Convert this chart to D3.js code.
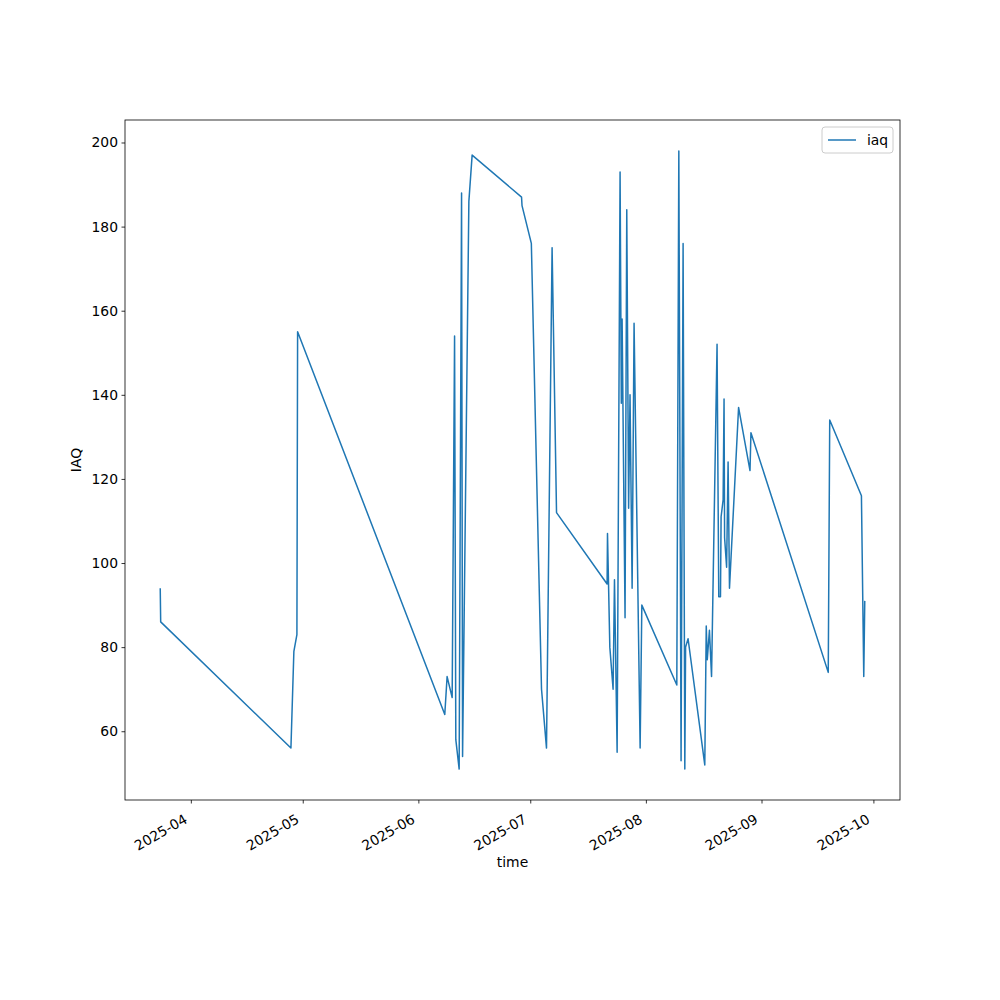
<!DOCTYPE html>
<html>
<head>
<meta charset="utf-8">
<script src="https://cdnjs.cloudflare.com/ajax/libs/d3/7.8.5/d3.min.js"></script>
<style>
body { margin: 0; background: #fff; }
svg text { font-family: "DejaVu Sans", sans-serif; font-size: 13.9px; fill: #000; }
</style>
</head>
<body>
<div id="main"></div>
<script>
// readings of the sensor
var times = [
  "2025-03-23 19:00", "2025-03-23 22:00", "2025-04-27 20:00", "2025-04-28 15:00", "2025-04-29 10:30",
  "2025-04-29 15:00", "2025-06-08 02:00", "2025-06-08 17:00", "2025-06-10 01:30", "2025-06-10 17:00",
  "2025-06-11 01:00", "2025-06-11 22:30", "2025-06-12 14:00", "2025-06-12 20:30", "2025-06-14 13:00",
  "2025-06-15 10:00", "2025-06-28 16:00", "2025-06-28 19:00", "2025-07-01 07:00", "2025-07-04 00:30",
  "2025-07-05 08:30", "2025-07-06 20:30", "2025-07-08 01:00", "2025-07-21 14:30", "2025-07-21 17:00",
  "2025-07-22 08:00", "2025-07-23 05:00", "2025-07-23 14:00", "2025-07-24 07:00", "2025-07-25 02:00",
  "2025-07-25 10:00", "2025-07-25 15:00", "2025-07-26 10:00", "2025-07-26 21:00", "2025-07-27 09:00",
  "2025-07-27 18:00", "2025-07-28 07:30", "2025-07-28 20:00", "2025-07-30 11:00", "2025-07-30 22:00",
  "2025-08-09 07:00", "2025-08-09 20:00", "2025-08-10 10:30", "2025-08-10 23:30", "2025-08-11 10:30",
  "2025-08-11 15:30", "2025-08-12 07:30", "2025-08-16 19:00", "2025-08-17 04:30", "2025-08-17 11:00",
  "2025-08-18 01:00", "2025-08-18 14:30", "2025-08-20 02:00", "2025-08-20 13:00", "2025-08-21 00:00",
  "2025-08-21 04:00", "2025-08-21 17:00", "2025-08-21 23:00", "2025-08-22 02:30", "2025-08-22 15:30",
  "2025-08-23 01:00", "2025-08-23 10:00", "2025-08-25 20:30", "2025-08-28 22:00", "2025-08-29 04:00",
  "2025-09-18 21:30", "2025-09-19 07:00", "2025-09-27 19:00", "2025-09-28 10:00", "2025-09-28 16:30"
];
var iaq = [
  94, 86, 56, 79, 83,
  155, 64, 73, 68, 154,
  58, 51, 188, 54, 186,
  197, 187, 185, 176, 70,
  56, 175, 112, 95, 107,
  80, 70, 96, 55, 193,
  138, 158, 87, 184, 113,
  140, 94, 157, 56, 90,
  71, 198, 53, 176, 51,
  80, 82, 52, 85, 77,
  84, 73, 152, 92, 92,
  111, 115, 139, 106, 99,
  124, 94, 137, 122, 131,
  74, 134, 116, 73, 91
];
var seriesName = "iaq";

var parseTime = d3.timeParse("%Y-%m-%d %H:%M");
var data = times.map(function(t, i) { return {time: parseTime(t), value: iaq[i]}; });

var mLeft = 125, mTop = 120, width = 775, height = 680;

// 5% padding on each side, like the original plot
var tExt = d3.extent(data, function(d) { return d.time; });
var tPad = (tExt[1] - tExt[0]) * 0.05;
var x = d3.scaleTime()
  .domain([new Date(+tExt[0] - tPad), new Date(+tExt[1] + tPad)])
  .range([0, width]);
var vExt = d3.extent(data, function(d) { return d.value; });
var vPad = (vExt[1] - vExt[0]) * 0.05;
var y = d3.scaleLinear()
  .domain([vExt[0] - vPad, vExt[1] + vPad])
  .range([height, 0]);

var canvas = d3.select("#main").append("svg")
  .attr("width", 1000)
  .attr("height", 1000);
var g = canvas.append("g")
  .attr("transform", "translate(" + mLeft + "," + mTop + ")");

var line = d3.line()
  .x(function(d) { return x(d.time); })
  .y(function(d) { return y(d.value); });
g.append("path")
  .datum(data)
  .attr("d", line)
  .attr("fill", "none")
  .attr("stroke", "#1f77b4")
  .attr("stroke-width", 1.5)
  .attr("stroke-linejoin", "round");//draw line

var xAxis = d3.axisBottom(x)
  .ticks(d3.timeMonth.every(1))
  .tickFormat(d3.timeFormat("%Y-%m"))
  .tickSizeInner(3.5).tickSizeOuter(0).tickPadding(3.5);
var xg = g.append("g")
  .attr("transform", "translate(0," + height + ")")
  .call(xAxis);
xg.selectAll("text")
  .attr("y", 0).attr("dy", null)
  .style("text-anchor", "end")
  .attr("transform", "translate(-3, 22) rotate(-30)");//rotate dates

var yAxis = d3.axisLeft(y).ticks(8)
  .tickSizeInner(3.5).tickSizeOuter(0).tickPadding(3.5);
var yg = g.append("g").call(yAxis);

[xg, yg].forEach(function(a) {
  a.select(".domain").remove();
  a.selectAll("line").attr("stroke", "#000").attr("stroke-width", 0.8);
  a.selectAll("text").attr("font-size", null).attr("font-family", null);
});
g.append("rect")
  .attr("width", width)
  .attr("height", height)
  .attr("fill", "none")
  .attr("stroke", "#000")
  .attr("stroke-width", 0.8);//frame

canvas.append("text")
  .attr("x", mLeft + width / 2)
  .attr("y", 867)
  .style("text-anchor", "middle")
  .text("time");
canvas.append("text")
  .attr("transform", "translate(81," + (mTop + height / 2) + ") rotate(-90)")
  .style("text-anchor", "middle")
  .text("IAQ");

// legend, upper right
var legend = g.append("g").attr("transform", "translate(" + (width - 78) + ",7)");
legend.append("rect")
  .attr("width", 71)
  .attr("height", 26)
  .attr("rx", 3)
  .attr("fill", "#fff")
  .attr("fill-opacity", 0.8)
  .attr("stroke", "#ccc");
legend.append("line")
  .attr("x1", 6).attr("x2", 34)
  .attr("y1", 13).attr("y2", 13)
  .attr("stroke", "#1f77b4")
  .attr("stroke-width", 1.5);
legend.append("text")
  .attr("x", 45)
  .attr("y", 18)
  .text(seriesName);
</script>
</body>
</html>
